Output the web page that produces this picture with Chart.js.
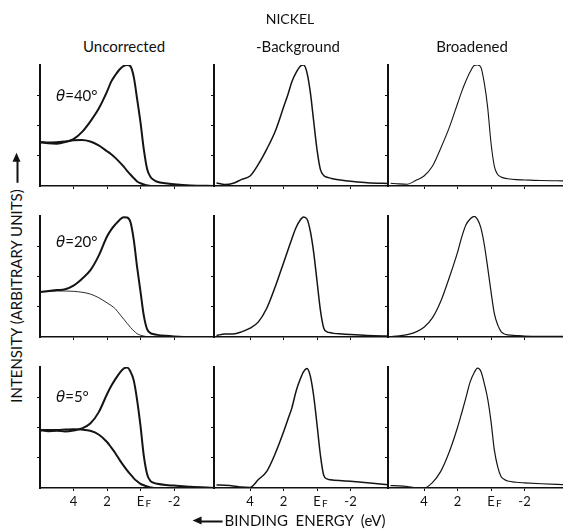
<!DOCTYPE html>
<html>
<head>
<meta charset="utf-8">
<script src="https://cdn.jsdelivr.net/npm/chart.js@4.4.1/dist/chart.umd.min.js"></script>
<style>
body { margin:0; background:#fff; width:563px; height:531px; position:relative; overflow:hidden;
       font-family: Lato, "DejaVu Sans", sans-serif; color:#111; }
canvas { position:absolute; }
.lbl { position:absolute; white-space:nowrap; line-height:1; transform:translate(-50%,-50%); }
.lbl i { font-family: "DejaVu Sans", sans-serif; }
.arrL, .arrR { display:inline-block; position:relative; width:22px; height:1.6px; background:#111; vertical-align:middle; }
.arrL { margin-right:2px; margin-left:8px; }
.arrR { margin-left:6px; margin-right:8px; }
.arrL:before, .arrR:before { content:''; position:absolute; top:-4px; border-top:4.8px solid transparent; border-bottom:4.8px solid transparent; }
.arrL:before { left:-8px; border-right:9px solid #111; }
.arrR:before { right:-8px; border-left:9px solid #111; }
</style>
</head>
<body>
<script>
//-- binding energy grid (eV), shared by every curve
var energy = [6, 5.5, 5, 4.5, 4, 3.5, 3, 2.5, 2, 1.75, 1.5, 1.25, 1, 0.8, 0.6, 0.4, 0.2, 0, -0.2, -0.4, -0.6, -0.8, -1, -1.5, -2, -3, -4.4];

//-- theta = 40
var uncorr40 = [1.45,1.41,1.40,1.45,1.55,1.78,2.13,2.55,3.12,3.45,3.67,3.85,3.97,4.0,3.96,3.6,2.87,2.1,1.2,0.55,0.3,0.2,0.14,0.09,0.06,0.02,0];
var back40   = [1.45,1.44,1.45,1.47,1.51,1.52,1.47,1.34,1.15,1.05,0.93,0.79,0.64,0.5,0.38,0.26,0.15,0.09,0.05,0.02,0,0,0,0,0,0,0];
var sub40    = [0.1,0.05,0.09,0.22,0.33,0.72,1.22,1.8,2.6,3.0,3.45,3.75,3.96,4.0,3.75,3.1,2.15,1.2,0.55,0.35,0.29,0.26,0.23,0.19,0.16,0.11,0.08];
var broad40  = [0.09,0.07,0.06,0.18,0.33,0.65,1.25,1.92,2.72,3.12,3.47,3.77,3.98,4.0,3.92,3.4,2.6,1.42,0.65,0.38,0.3,0.26,0.24,0.21,0.2,0.18,0.17];

//-- theta = 20
var uncorr20 = [1.49,1.52,1.55,1.58,1.7,1.92,2.2,2.68,3.32,3.55,3.72,3.87,3.96,3.95,3.8,3.2,2.3,1.5,0.7,0.25,0.13,0.09,0.07,0.04,0.02,0,0];
var back20   = [1.49,1.5,1.52,1.52,1.51,1.48,1.42,1.3,1.13,1.04,0.93,0.76,0.59,0.45,0.32,0.2,0.11,0.06,0.03,0.01,0,0,0,0,0,0,0];
var sub20    = [0.05,0.1,0.1,0.17,0.29,0.5,0.95,1.65,2.45,2.85,3.25,3.62,3.87,3.97,3.9,3.5,2.8,1.85,0.9,0.3,0.17,0.14,0.12,0.1,0.08,0.05,0.03];
var broad20  = [0.01,0.04,0.08,0.16,0.32,0.63,1.18,1.95,2.8,3.3,3.7,3.9,3.99,3.88,3.6,3.05,2.3,1.5,0.77,0.4,0.18,0.1,0.07,0.05,0.03,0.02,0.02];

//-- theta = 5
var uncorr5  = [1.91,1.88,1.89,1.87,1.9,1.97,2.13,2.5,3.1,3.37,3.6,3.8,3.95,3.98,3.85,3.55,2.9,2.05,1.05,0.45,0.23,0.17,0.14,0.1,0.08,0.04,0];
var back5    = [1.91,1.92,1.92,1.93,1.94,1.93,1.89,1.77,1.52,1.34,1.15,0.93,0.73,0.58,0.45,0.32,0.22,0.14,0.09,0.05,0.02,0,0,0,0,0,0];
var sub5     = [0.1,0.09,0.07,0.03,0.02,0.28,0.55,1.13,1.85,2.25,2.65,3.2,3.6,3.85,3.95,3.7,3.05,2.1,1.1,0.42,0.3,0.27,0.26,0.24,0.22,0.17,0.1];
var broad5   = [0.08,0.07,0.05,0.01,0,0.18,0.55,1.18,2.0,2.48,2.98,3.5,3.82,3.96,3.85,3.45,2.95,2.2,1.25,0.7,0.38,0.28,0.23,0.19,0.17,0.14,0.11];

var xTicks = [4, 2, 0, -2];
var yTicks = [1, 2, 3];
var angleLabels = ['<i>θ</i>=40°', '<i>θ</i>=20°', '<i>θ</i>=5°'];
var columnTitles = ['Uncorrected', '-Background', 'Broadened'];

//-- layout of the 3x3 grid (px)
var axisX = [40, 214, 388];
var axisTop = [65, 216, 367];
var panelW = [174, 174, 175];
var panelH = 121;
var xMax = [6, 6.15, 6.15];
var pxPerEv = 16.75;

//-- small F under E for the Fermi level tick
var subF = {
    id: 'subF',
    afterDraw: function (chart) {
        var s = chart.scales.x;
        var x = s.getPixelForValue(0);
        var ctx = chart.ctx;
        ctx.save();
        ctx.font = '10px Lato';
        ctx.fillStyle = '#111';
        ctx.textBaseline = 'top';
        ctx.fillText('F', x + 5, s.top + 11);
        ctx.restore();
    }
};

function panel(row, col, curves) {
    var bottom = row == 2;
    var padL = 5, padT = 3, padB = bottom ? 30 : 6;
    var c = document.createElement('canvas');
    c.width = padL + panelW[col];
    c.height = padT + panelH + padB;
    c.style.left = (axisX[col] - padL) + 'px';
    c.style.top = (axisTop[row] - padT) + 'px';
    document.body.appendChild(c);

    var sets = curves.map(function (cv) {
        return {
            data: energy.map(function (e, i) { return { x: e, y: cv[0][i] }; }),
            borderColor: '#141414',
            borderWidth: cv[1],
            pointRadius: 0,
            fill: false,
            cubicInterpolationMode: 'monotone'
        };
    });

    new Chart(c, {
        type: 'line',
        data: { datasets: sets },
        options: {
            responsive: false,
            animation: false,
            events: [],
            layout: { padding: { top: padT, left: 0, right: 0, bottom: 0 } },
            plugins: { legend: { display: false }, tooltip: { enabled: false } },
            scales: {
                x: {
                    type: 'linear', reverse: true,
                    min: xMax[col] - panelW[col] / pxPerEv, max: xMax[col],
                    afterBuildTicks: function (s) { s.ticks = xTicks.map(function (v) { return { value: v }; }); },
                    afterFit: function (s) { s.height = padB; },
                    ticks: {
                        display: bottom, autoSkip: false, maxRotation: 0, padding: 3, color: '#111',
                        font: { family: 'Lato', size: 13 },
                        callback: function (v) { return v === 0 ? 'E' : String(v); }
                    },
                    grid: { drawOnChartArea: false, tickLength: 3, color: '#111', lineWidth: 1 },
                    border: { color: '#111', width: 1.5 }
                },
                y: {
                    min: 0, max: 4,
                    afterBuildTicks: function (s) { s.ticks = yTicks.map(function (v) { return { value: v }; }); },
                    afterFit: function (s) { s.width = padL; },
                    ticks: { display: false },
                    grid: { drawOnChartArea: false, tickLength: 3, color: '#111', lineWidth: 1 },
                    border: { color: '#111', width: 2 }
                }
            }
        },
        plugins: bottom ? [subF] : []
    });
}

panel(0, 0, [[uncorr40, 2], [back40, 2]]);
panel(0, 1, [[sub40, 1.5]]);
panel(0, 2, [[broad40, 1.1]]);
panel(1, 0, [[uncorr20, 2], [back20, 0.9]]);
panel(1, 1, [[sub20, 1.5]]);
panel(1, 2, [[broad20, 1.2]]);
panel(2, 0, [[uncorr5, 2], [back5, 2]]);
panel(2, 1, [[sub5, 1.5]]);
panel(2, 2, [[broad5, 1.2]]);

//-------- texts
function label(html, x, y, size, extra) {
    var d = document.createElement('div');
    d.className = 'lbl';
    d.innerHTML = html;
    d.style.left = x + 'px';
    d.style.top = y + 'px';
    d.style.fontSize = size + 'px';
    if (extra) d.style.transform = extra;
    document.body.appendChild(d);
    return d;
}

label('NICKEL', 290, 19, 14);
for (var k = 0; k < 3; k++) {
    label(columnTitles[k], axisX[k] + 84, 46, 15);
    var t = label(angleLabels[k], 0, [96, 242, 397][k], 15);
    t.style.left = '56px';
    t.style.transform = 'translate(0,-50%)';
}
label('<span class="arrL"></span>BINDING&nbsp; ENERGY&nbsp; (eV)', 289, 520, 15);
label('INTENSITY (ARBITRARY UNITS)<span class="arrR"></span>', 16, 278, 15, 'translate(-50%,-50%) rotate(-90deg)');
</script>
</body>
</html>
